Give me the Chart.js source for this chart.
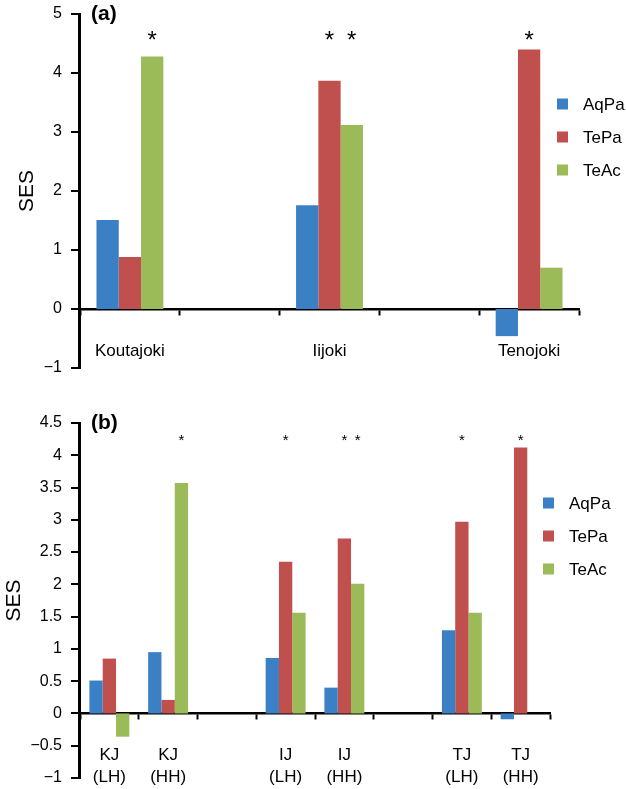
<!DOCTYPE html>
<html>
<head>
<meta charset="utf-8">
<script src="https://cdn.jsdelivr.net/npm/chart.js@4.4.1/dist/chart.umd.min.js"></script>
<style>
  html, body { margin: 0; padding: 0; background: #fff; }
  #wrap { position: relative; width: 626px; height: 789px; }
  .panel { position: absolute; left: 0; width: 626px; }
  #pa { top: 0; height: 380px; }
  #pb { top: 380px; height: 409px; }
</style>
</head>
<body>
<div id="wrap">
  <div class="panel" id="pa"><canvas id="chartA"></canvas></div>
  <div class="panel" id="pb"><canvas id="chartB"></canvas></div>
</div>
<script>
/* ---------- data ---------- */
const seriesNames = ['AqPa', 'TePa', 'TeAc'];

// (a) rivers, blank slots are the gaps between groups
const riversA = ['Koutajoki', '', 'Iijoki', '', 'Tenojoki'];
const aqpaA = [1.51, null, 1.76, null, -0.46];
const tepaA = [0.88, null, 3.87, null, 4.40];
const teacA = [4.28, null, 3.12, null, 0.70];
// significance (*) per bar
const sigAqpaA = [0, 0, 0, 0, 0];
const sigTepaA = [0, 0, 1, 0, 1];
const sigTeacA = [1, 0, 1, 0, 0];
const ticksA = { min: -1, max: 5, step: 1 };

// (b) river x habitat
const sitesB = [['KJ', '(LH)'], ['KJ', '(HH)'], '', ['IJ', '(LH)'], ['IJ', '(HH)'], '', ['TJ', '(LH)'], ['TJ', '(HH)']];
const aqpaB = [0.51, 0.95, null, 0.86, 0.40, null, 1.29, -0.09];
const tepaB = [0.85, 0.21, null, 2.35, 2.71, null, 2.97, 4.12];
const teacB = [-0.36, 3.57, null, 1.56, 2.01, null, 1.56, null];
const sigAqpaB = [0, 0, 0, 0, 0, 0, 0, 0];
const sigTepaB = [0, 0, 0, 1, 1, 0, 1, 1];
const sigTeacB = [0, 1, 0, 0, 1, 0, 0, 0];
const ticksB = { min: -1, max: 4.5, step: 0.5 };

/* ---------- style ---------- */
const colors = ['#3b7fc4', '#c0504d', '#9bbb59'];
const FONT = '"Liberation Sans", Arial, sans-serif';
Chart.defaults.font.family = FONT;
Chart.defaults.color = '#000';

// y axis line with outward ticks, panel tag, asterisks and legend
const extrasPlugin = {
    id: 'extras',
    afterDatasetsDraw(chart, args, opts) {
        const ctx = chart.ctx;
        const area = chart.chartArea;
        const ys = chart.scales.y;
        ctx.save();

        // y axis (stroked path, drawn on top of everything in the plot)
        const x0 = Math.round(area.left) - 1;
        ctx.strokeStyle = '#000000';
        ctx.lineWidth = 3;
        ctx.lineCap = 'butt';
        ctx.beginPath();
        ctx.moveTo(x0 + 0.5, area.top - 1);
        ctx.lineTo(x0 + 0.5, area.bottom + 1);
        ctx.stroke();
        ctx.lineWidth = 2;
        ctx.beginPath();
        ys.ticks.forEach(t => {
            const py = Math.round(ys.getPixelForValue(t.value));
            ctx.moveTo(x0 - 8, py);
            ctx.lineTo(x0, py);
        });
        ctx.stroke();

        ctx.fillStyle = '#000';
        ctx.font = `bold 21px ${FONT}`;
        ctx.textAlign = 'left';
        ctx.textBaseline = 'middle';
        ctx.fillText(opts.tag, area.left + 11, area.top);

        // asterisks above significant bars
        ctx.font = `${opts.starSize}px ${FONT}`;
        ctx.textAlign = 'center';
        ctx.textBaseline = 'alphabetic';
        const yStar = ys.getPixelForValue(opts.starAt) + opts.starSize * 0.58;
        chart.data.datasets.forEach((ds, i) => {
            const meta = chart.getDatasetMeta(i);
            ds.sig.forEach((s, j) => {
                if (s && meta.data[j]) ctx.fillText('*', meta.data[j].x, yStar);
            });
        });

        // legend
        ctx.font = `17px ${FONT}`;
        ctx.textAlign = 'left';
        ctx.textBaseline = 'middle';
        chart.data.datasets.forEach((ds, i) => {
            const cy = opts.legendY + i * opts.legendGap;
            ctx.fillStyle = ds.backgroundColor;
            ctx.fillRect(opts.legendX, cy - 5.5, 11, 11);
            ctx.fillStyle = '#000';
            ctx.fillText(ds.label, opts.legendX + 26, cy + 1);
        });
        ctx.restore();
    }
};

function makePanel(canvasId, labels, values, sigs, yr, cfg) {
    const datasets = values.map((v, i) => ({
        label: seriesNames[i],
        data: v,
        sig: sigs[i],
        backgroundColor: colors[i],
        borderWidth: 0,
        categoryPercentage: cfg.catPct,
        barPercentage: 1.0
    }));

    return new Chart(document.getElementById(canvasId), {
        type: 'bar',
        data: { labels, datasets },
        plugins: [extrasPlugin],
        options: {
            responsive: true,
            maintainAspectRatio: false,
            animation: false,
            layout: { padding: { left: 0, right: cfg.padRight, top: cfg.padTop, bottom: cfg.padBottom } },
            plugins: {
                legend: { display: false },
                tooltip: { enabled: false },
                extras: cfg.extras
            },
            scales: {
                x: {
                    position: { y: 0 },
                    grid: { drawOnChartArea: false, offset: true, tickLength: 5, tickWidth: 2, tickColor: '#000' },
                    border: { display: true, color: '#000', width: 2.5 },
                    ticks: {
                        color: '#000', autoSkip: false, maxRotation: 0,
                        padding: cfg.labelPad,
                        font: { size: 17, lineHeight: cfg.labelLH }
                    }
                },
                y: {
                    min: yr.min,
                    max: yr.max,
                    // fixed axis width, and no extra room for the end labels
                    afterFit: s => { s.width = 80; s.paddingTop = 0; s.paddingBottom = 0; },
                    grid: { display: false, drawTicks: false },
                    border: { display: false },
                    ticks: {
                        stepSize: yr.step,
                        padding: 18,
                        color: '#000',
                        font: { size: 16 },
                        callback: v => String(v).replace('-', '\u2212')
                    },
                    title: {
                        display: true,
                        text: 'SES',
                        color: '#000',
                        font: { size: 21, lineHeight: 1 },
                        padding: { top: cfg.titlePad, bottom: 0 }
                    }
                }
            }
        }
    });
}

makePanel('chartA', riversA, [aqpaA, tepaA, teacA], [sigAqpaA, sigTepaA, sigTeacA], ticksA, {
    catPct: 0.67, padRight: 47, padTop: 14, padBottom: 12,
    labelPad: 27, labelLH: 1.2, titlePad: 17,
    extras: { tag: '(a)', starAt: 4.66, starSize: 24, legendX: 557, legendY: 104, legendGap: 33 }
});

makePanel('chartB', sitesB, [aqpaB, tepaB, teacB], [sigAqpaB, sigTepaB, sigTeacB], ticksB, {
    catPct: 0.68, padRight: 76, padTop: 43, padBottom: 11,
    labelPad: 26, labelLH: 1.3, titlePad: 4,
    extras: { tag: '(b)', starAt: 4.29, starSize: 15, legendX: 543, legendY: 123, legendGap: 33 }
});
</script>
</body>
</html>
